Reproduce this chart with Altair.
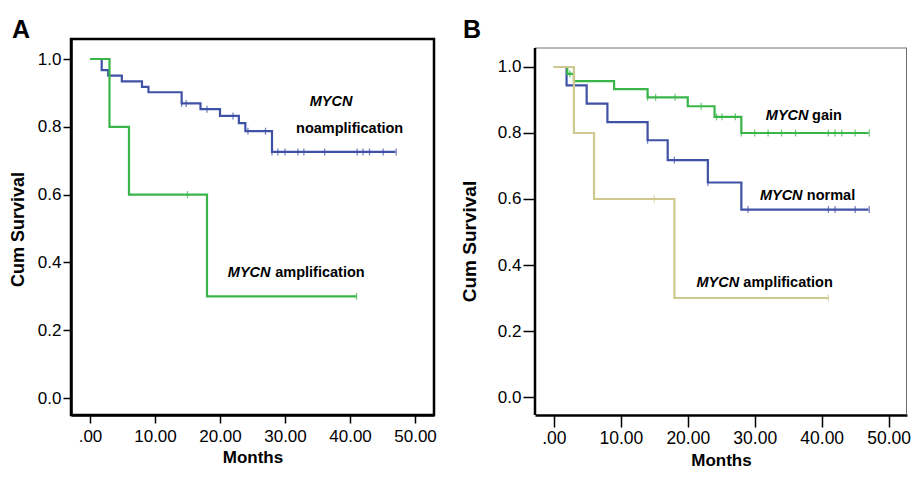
import altair as alt
import pandas as pd

FONT = "Liberation Sans"

# ---------------- Panel A ----------------
a_noamp_t = [0, 1.8, 2.8, 4.9, 8.0, 9.0, 14.1, 17.0, 20.0, 22.9, 23.9, 28.0, 47.0]
a_noamp_s = [1.0, 0.967, 0.951, 0.934, 0.918, 0.902, 0.869, 0.852, 0.832, 0.811, 0.787, 0.726, 0.726]
a_noamp_ct = [14.1, 14.8, 18.0, 22.0, 24.3, 27.0, 28.0, 28.9, 30.0, 32.0, 32.9, 36.1, 41.1, 42.0, 43.0, 45.1, 47.1]
a_noamp_cs = [0.869, 0.869, 0.852, 0.832, 0.787, 0.787, 0.726, 0.726, 0.726, 0.726, 0.726, 0.726, 0.726, 0.726, 0.726, 0.726, 0.726]

a_amp_t = [0, 3.0, 6.0, 18.0, 41.0]
a_amp_s = [1.0, 0.8, 0.6, 0.3, 0.3]
a_amp_ct = [15.0, 41.0]
a_amp_cs = [0.6, 0.3]

a_lab_text = ["MYCN", "noamplification", "MYCN", "amplification"]
a_lab_t = [33.8, 31.7, 21.2, 28.5]
a_lab_s = [0.861, 0.782, 0.357, 0.357]
a_lab_italic = [True, False, True, False]

# ---------------- Panel B ----------------
b_norm_t = [0, 1.9, 4.9, 8.0, 14.0, 17.0, 23.0, 28.0, 47.0]
b_norm_s = [1.0, 0.944, 0.889, 0.833, 0.778, 0.718, 0.650, 0.568, 0.568]
b_norm_ct = [14.0, 18.0, 23.0, 29.0, 41.0, 42.0, 45.0, 47.1]
b_norm_cs = [0.778, 0.718, 0.650, 0.568, 0.568, 0.568, 0.568, 0.568]

b_gain_t = [0, 2.0, 3.0, 9.0, 14.0, 20.0, 24.0, 28.0, 47.0]
b_gain_s = [1.0, 0.979, 0.957, 0.933, 0.908, 0.881, 0.849, 0.800, 0.800]
b_gain_ct = [2.4, 14.0, 15.2, 18.1, 22.0, 24.3, 25.1, 27.1, 28.0, 30.0, 32.0, 34.0, 36.1, 41.0, 42.0, 43.0, 45.0, 47.1]
b_gain_cs = [0.979, 0.908, 0.908, 0.908, 0.881, 0.849, 0.849, 0.849, 0.8, 0.8, 0.8, 0.8, 0.8, 0.8, 0.8, 0.8, 0.8, 0.8]

b_amp_t = [0, 3.0, 6.0, 18.0, 41.0]
b_amp_s = [1.0, 0.8, 0.6, 0.3, 0.3]
b_amp_ct = [15.0, 41.0]
b_amp_cs = [0.6, 0.3]

b_lab_text = ["MYCN", "gain", "MYCN", "normal", "MYCN", "amplification"]
b_lab_t = [31.66, 38.56, 30.77, 37.78, 21.29, 28.3]
b_lab_s = [0.840, 0.840, 0.596, 0.596, 0.333, 0.333]
b_lab_italic = [True, False, True, False, True, False]

x_ticks = [0, 10, 20, 30, 40, 50]
y_ticks = [0.0, 0.2, 0.4, 0.6, 0.8, 1.0]

BLUE = "#3f52a6"
GREEN = "#39b54a"
KHAKI = "#cfc88e"


def make_panel(curves, labels, letter, W, H, xdom, ydom, xlab, ylab, tick_len,
               xlab_pad, title_x, title_y, ytitle_size, letter_x, full_frame):
    xs = alt.Scale(domain=xdom, nice=False, zero=False)
    ys = alt.Scale(domain=ydom, nice=False, zero=False)
    xaxis = alt.Axis(
        title="Months", values=x_ticks,
        labelExpr="datum.value == 0 ? '.00' : format(datum.value, '.2f')",
        grid=False, domain=True, domainColor="black", domainWidth=2.5,
        tickColor="black", tickWidth=1.5, tickSize=tick_len,
        labelFont=FONT, labelFontSize=xlab, labelColor="black", labelPadding=xlab_pad,
        labelFlush=False, labelOverlap=False,
        titleFont=FONT, titleFontSize=17, titleFontWeight="bold",
        titleColor="black", titlePadding=5)
    yaxis = alt.Axis(
        title="Cum Survival", values=y_ticks, format=".1f",
        grid=False, domain=full_frame, domainColor="black", domainWidth=2.5,
        tickColor="black", tickWidth=1.5, tickSize=tick_len,
        labelFont=FONT, labelFontSize=ylab, labelColor="black", labelPadding=2,
        labelFlush=False, labelOverlap=False,
        titleFont=FONT, titleFontSize=ytitle_size, titleFontWeight="bold",
        titleColor="black", titleX=title_x, titleY=title_y,
        titleBaseline="alphabetic")
    xe = alt.X("t:Q", scale=xs, axis=xaxis)
    ye = alt.Y("s:Q", scale=ys, axis=yaxis)

    layers = []
    for ts, ss, cts, css, col in curves:
        ldf = pd.DataFrame({"t": ts, "s": ss})
        layers.append(alt.Chart(ldf).mark_line(
            interpolate="step-after", strokeWidth=2.2, color=col).encode(x=xe, y=ye))
        cdf = pd.DataFrame({"t": cts, "s": css})
        layers.append(alt.Chart(cdf).mark_tick(
            orient="vertical", size=7, thickness=1.3, color=col).encode(x=xe, y=ye))

    texts, ts_, ss_, its = labels
    ldf = pd.DataFrame({"t": ts_, "s": ss_, "txt": texts, "it": its})
    layers.append(alt.Chart(ldf[ldf["it"]]).mark_text(
        align="left", baseline="alphabetic", font=FONT, fontSize=14.5,
        fontWeight="bold", fontStyle="italic", color="black"
    ).encode(x=xe, y=ye, text="txt:N"))
    layers.append(alt.Chart(ldf[~ldf["it"]]).mark_text(
        align="left", baseline="alphabetic", font=FONT, fontSize=14.5,
        fontWeight="bold", color="black"
    ).encode(x=xe, y=ye, text="txt:N"))

    one = pd.DataFrame({"k": [0]})
    layers.append(alt.Chart(one).mark_text(
        align="left", baseline="alphabetic", font=FONT, fontSize=25,
        fontWeight="bold", color="black"
    ).encode(x=alt.value(letter_x), y=alt.value(-1), text=alt.value(letter)))

    if full_frame:
        view = alt.ViewBackground(stroke="black", strokeWidth=2.5)
    else:
        view = alt.ViewBackground(stroke="transparent", strokeWidth=0)
        top = 9
        layers.append(alt.Chart(one).mark_rule(color="#6e6e6e", strokeWidth=1).encode(
            x=alt.value(0), x2=alt.value(W), y=alt.value(top)))
        layers.append(alt.Chart(one).mark_rule(color="#6e6e6e", strokeWidth=1).encode(
            x=alt.value(W - 0.5), y=alt.value(top), y2=alt.value(H)))
        layers.append(alt.Chart(one).mark_rule(color="black", strokeWidth=2.5).encode(
            x=alt.value(0), y=alt.value(top), y2=alt.value(H)))

    return alt.layer(*layers).properties(width=W, height=H, view=view)


panel_a = make_panel(
    curves=[
        (a_noamp_t, a_noamp_s, a_noamp_ct, a_noamp_cs, BLUE),
        (a_amp_t, a_amp_s, a_amp_ct, a_amp_cs, GREEN),
    ],
    labels=(a_lab_text, a_lab_t, a_lab_s, a_lab_italic),
    letter="A", W=363, H=376, xdom=[-2.92, 52.92], ydom=[-0.050, 1.059],
    xlab=17, ylab=17, tick_len=8, xlab_pad=5, title_x=-47.4, title_y=190,
    ytitle_size=18, letter_x=-59, full_frame=True)

panel_b = make_panel(
    curves=[
        (b_norm_t, b_norm_s, b_norm_ct, b_norm_cs, BLUE),
        (b_gain_t, b_gain_s, b_gain_ct, b_gain_cs, GREEN),
        (b_amp_t, b_amp_s, b_amp_ct, b_amp_cs, KHAKI),
    ],
    labels=(b_lab_text, b_lab_t, b_lab_s, b_lab_italic),
    letter="B", W=372, H=376, xdom=[-2.815, 52.74], ydom=[-0.0545, 1.0848],
    xlab=17.5, ylab=17, tick_len=12, xlab_pad=2.5, title_x=-59.4, title_y=202,
    ytitle_size=19, letter_x=-72, full_frame=False)

chart = alt.hconcat(panel_a, panel_b, spacing=22).properties(
    padding={"left": 0, "top": 8, "right": 0, "bottom": 0},
    background="white")

chart.save("out.html", embed_options={"renderer": "svg", "actions": False})
